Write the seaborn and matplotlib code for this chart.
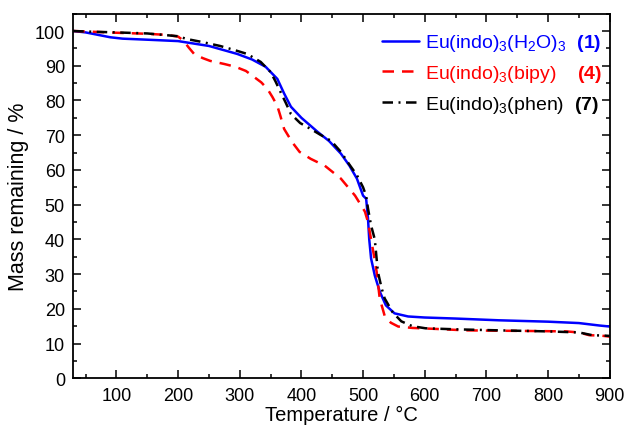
import pandas as pd
import matplotlib
matplotlib.use("Agg")
import matplotlib.pyplot as plt
from matplotlib.ticker import MultipleLocator
import seaborn as sns

# TGA curves (temperature in degC, mass in %)
temp_1 = [30, 50, 70, 90, 110, 150, 200, 250, 296, 320, 342, 361, 372, 383, 400,
          426, 445, 464, 478, 490, 500, 505, 508, 510, 513, 519, 527, 537, 551,
          573, 600, 650, 720, 800, 850, 883, 900]
mass_1 = [100, 99.6, 98.9, 98.2, 97.8, 97.5, 97.1, 95.7, 93.4, 91.8, 89.7, 86.2,
          82.0, 78.2, 75.0, 71.0, 68.3, 64.7, 61.2, 57.5, 52.6, 51.7, 46.0, 40.0,
          34.5, 29.6, 25.0, 21.0, 18.7, 17.8, 17.5, 17.2, 16.7, 16.3, 15.9, 15.2, 14.9]

temp_4 = [30, 60, 100, 150, 180, 200, 209, 217, 226, 240, 252, 275, 293, 310, 323,
          335, 345, 353, 361, 366, 372, 385, 397, 415, 438, 464, 487, 503, 508,
          513, 518, 522, 527, 535, 545, 557, 580, 620, 666, 720, 780, 829, 850,
          867, 885, 900]
mass_4 = [100, 99.8, 99.5, 99.2, 98.9, 98.4, 97.2, 95.3, 93.4, 92.2, 91.4, 90.5,
          89.7, 88.5, 86.8, 85.2, 83.3, 81.0, 78.4, 75.5, 71.8, 68.0, 65.2, 63.2,
          61.2, 57.5, 52.6, 48.0, 45.0, 40.0, 35.0, 30.7, 23.0, 18.0, 16.0, 14.9,
          14.5, 14.2, 13.8, 13.7, 13.6, 13.5, 13.2, 12.4, 12.3, 12.0]

temp_7 = [30, 60, 100, 150, 200, 214, 240, 268, 290, 312, 334, 350, 358, 366, 375,
          383, 398, 415, 430, 448, 464, 478, 490, 500, 505, 508, 513, 519, 524,
          530, 535, 548, 562, 580, 601, 650, 720, 800, 850, 872, 890, 900]
mass_7 = [100, 99.8, 99.6, 99.3, 98.5, 97.7, 96.8, 95.7, 94.6, 93.4, 91.1, 88.2,
          85.5, 82.5, 79.2, 76.1, 73.5, 71.8, 70.2, 68.4, 65.2, 61.5, 58.5, 55.0,
          52.5, 48.9, 44.0, 40.0, 30.7, 26.0, 23.0, 19.0, 16.4, 15.0, 14.4, 14.1,
          13.8, 13.5, 13.2, 12.4, 12.3, 12.2]

labels = [r"Eu(indo)$_3$(H$_2$O)$_3$  $\mathbf{(1)}$",
          r"Eu(indo)$_3$(bipy)    $\mathbf{(4)}$",
          r"Eu(indo)$_3$(phen)  $\mathbf{(7)}$"]
colors = ["#0000ff", "#ff0000", "#000000"]

sns.set_style("ticks")
plt.rcParams["font.family"] = ["Liberation Sans", "DejaVu Sans"]
plt.rcParams["mathtext.fontset"] = "custom"
plt.rcParams["mathtext.rm"] = "Liberation Sans"
plt.rcParams["mathtext.it"] = "Liberation Sans:italic"
plt.rcParams["mathtext.bf"] = "Liberation Sans:bold"
plt.rcParams["axes.edgecolor"] = "black"
plt.rcParams["xtick.color"] = "black"
plt.rcParams["ytick.color"] = "black"
plt.rcParams["text.color"] = "black"
plt.rcParams["axes.labelcolor"] = "black"

fig, ax = plt.subplots(figsize=(6.26, 4.31), dpi=100)
fig.subplots_adjust(left=0.117, right=0.974, bottom=0.12, top=0.966)

df1 = pd.DataFrame({"T": temp_1, "m": mass_1})
df4 = pd.DataFrame({"T": temp_4, "m": mass_4})
df7 = pd.DataFrame({"T": temp_7, "m": mass_7})

lw = 1.8
sns.lineplot(data=df1, x="T", y="m", ax=ax, color=colors[0], lw=lw,
             label=labels[0], sort=False)
sns.lineplot(data=df4, x="T", y="m", ax=ax, color=colors[1], lw=lw,
             label=labels[1], sort=False, linestyle=(0, (4.6, 3.2)))
sns.lineplot(data=df7, x="T", y="m", ax=ax, color=colors[2], lw=lw,
             label=labels[2], sort=False, linestyle=(0, (4.2, 2.2, 0.8, 2.2)))

ax.set_xlim(30, 900)
ax.set_ylim(0, 105)
ax.xaxis.set_major_locator(MultipleLocator(100))
ax.xaxis.set_minor_locator(MultipleLocator(50))
ax.yaxis.set_major_locator(MultipleLocator(10))
ax.yaxis.set_minor_locator(MultipleLocator(5))
ax.tick_params(which="both", direction="in", top=True, right=True,
               labelsize=13, width=1.1)
ax.tick_params(which="major", length=5.5, pad=6)
ax.tick_params(which="minor", length=3)
for s in ax.spines.values():
    s.set_linewidth(1.3)

ax.set_xlabel("Temperature / \u00b0C", fontsize=14.5, labelpad=1)
ax.set_ylabel("Mass remaining / %", fontsize=15.5, labelpad=4)

leg = ax.legend(loc="upper right", bbox_to_anchor=(1.0, 0.97), frameon=False,
                fontsize=14, handlelength=1.9, handletextpad=0.3,
                labelspacing=0.5, borderaxespad=0, borderpad=0.4)
for txt, c in zip(leg.get_texts(), colors):
    txt.set_color(c)

fig.savefig("out.png", dpi=100)
